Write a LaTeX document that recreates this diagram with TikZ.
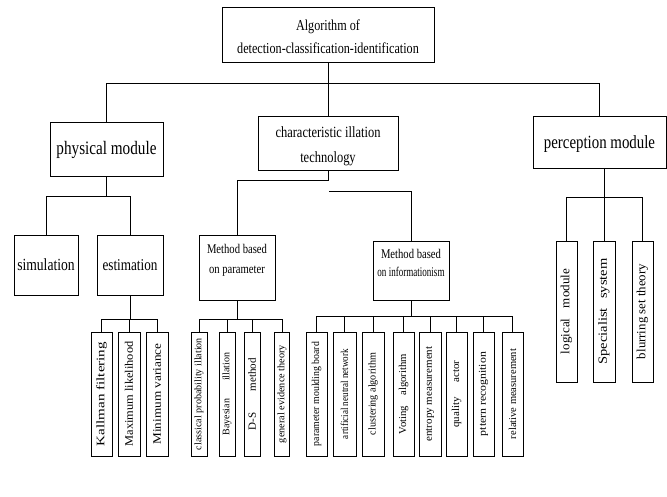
\documentclass[tikz,border=0pt]{standalone}
\usepackage{fontspec}
\usepackage{graphicx}
\setmainfont{Liberation Serif}
\newfontfamily\cond[FakeStretch=0.8]{Liberation Serif}
\newcommand{\lft}[3]{\rotatebox{90}{\fontsize{#1}{#1}\selectfont\resizebox{#2pt}{\height}{#3}}}
\begin{document}
\begin{tikzpicture}[x=1pt,y=-1pt,
  box/.style={draw, line width=0.8pt, inner sep=0pt},
  lab/.style={align=center, inner sep=0pt},
  leaf/.style={box, minimum height=124pt},
  rleaf/.style={box, minimum height=141pt},
  conn/.style={line width=0.8pt}]
\useasboundingbox (0,0) rectangle (667,497);

% main boxes
\node[box, minimum width=212pt, minimum height=55pt,
  label={[lab, font=\cond\fontsize{15.2}{23}\selectfont, yshift=-1.8pt]center:Algorithm of\\detection-classification-identification}] (top) at (328,34.5) {};
\node[box, minimum width=113pt, minimum height=54pt,
  label={[lab, font=\cond\fontsize{19}{23}\selectfont, yshift=-0.5pt]center:physical module}] (phys) at (106.5,149) {};
\node[box, minimum width=140pt, minimum height=54pt,
  label={[lab, font=\cond\fontsize{15.6}{25}\selectfont, yshift=-2.8pt]center:characteristic illation\\technology}] (char) at (328,143) {};
\node[box, minimum width=133pt, minimum height=52pt,
  label={[lab, font=\cond\fontsize{18.6}{23}\selectfont, yshift=-1.6pt]center:perception module}] (perc) at (599.5,142) {};

\node[box, minimum width=64pt, minimum height=60pt,
  label={[lab, font=\cond\fontsize{17}{20}\selectfont]center:simulation}] (sim) at (46,265) {};
\node[box, minimum width=66pt, minimum height=60pt,
  label={[lab, font=\cond\fontsize{16.5}{20}\selectfont]center:estimation}] (est) at (130,265) {};
\node[box, minimum width=76pt, minimum height=65pt,
  label={[lab, font=\cond\fontsize{13.3}{20}\selectfont, yshift=7.6pt]center:Method based\\on parameter}] (mpar) at (237,267.5) {};
\node[box, minimum width=76pt, minimum height=59pt,
  label={[lab, font=\cond\fontsize{13.3}{18}\selectfont, yshift=8pt]center:Method based\\\scalebox{0.85}[1]{on informationism}}] (minf) at (411,270.5) {};

% leaves
\node[leaf, minimum width=21pt] (k1) at (101.5,394) {\lft{11.5}{104}{Kallman filtering}};
\node[leaf, minimum width=22pt] (k2) at (129,394) {\lft{11.5}{105}{Maximum likelihood}};
\node[leaf, minimum width=22pt] (k3) at (157,394) {\lft{11.5}{101}{Minimum variance}};

\node[leaf, minimum width=16pt] (p1) at (199,394) {\lft{10}{112}{classical probability illation}};
\node[leaf, minimum width=16pt] (p2) at (227,394) {\lft{10}{83}{Bayesian\hspace{18pt}illation}};
\node[leaf, minimum width=16pt] (p3) at (252,394) {\lft{11}{72}{D-S\hspace{21pt}method}};
\node[leaf, minimum width=15pt] (p4) at (282,394) {\lft{10}{98}{general evidence theory}};

\node[leaf, minimum width=21pt] (i1) at (316.5,394) {\lft{10.5}{104}{parameter moulding board}};
\node[leaf, minimum width=23pt] (i2) at (344.5,394) {\lft{10.5}{90}{artificial neutral network}};
\node[leaf, minimum width=22pt] (i3) at (373,394) {\lft{10.5}{82}{clustering algorithm}};
\node[leaf, minimum width=21pt] (i4) at (403.5,394) {\lft{10.5}{80}{Voting\hspace{10pt}algorithm}};
\node[leaf, minimum width=22pt] (i5) at (430,394) {\lft{10.5}{95}{entropy measurement}};
\node[leaf, minimum width=21pt] (i6) at (456.5,394) {\lft{10.5}{67}{quality\hspace{14pt}actor}};
\node[leaf, minimum width=21pt] (i7) at (483.5,394) {\lft{10.5}{84}{pttern recognition}};
\node[leaf, minimum width=21pt] (i8) at (512.5,394) {\lft{10.5}{90}{relative measurement}};

\node[rleaf, minimum width=21pt] (r1) at (566.5,311.5) {\lft{12.5}{85}{logical\hspace{10pt}module}};
\node[rleaf, minimum width=22pt] (r2) at (604,311.5) {\lft{12.5}{106}{Specialist\hspace{8pt}system}};
\node[rleaf, minimum width=21pt] (r3) at (642.5,311.5) {\lft{12.5}{95}{blurring set theory}};

% connectors
\coordinate (b1) at (328,83);
\draw[conn] (top.south) -- (char.north);
\draw[conn] (phys.north) -- (phys.north |- b1) -| (perc.north);

\coordinate (b2) at (0,196);
\draw[conn] (phys.south) -- (phys.south |- b2);
\draw[conn] (sim.north) -- (sim.north |- b2) -| (est.north);

\coordinate (b3) at (0,319);
\draw[conn] (est.south) -- (est.south |- b3);
\draw[conn] (k1.north) -- (k1.north |- b3) -| (k3.north);
\draw[conn] (k2.north) -- (k2.north |- b3);

\coordinate (b4) at (0,180);
\draw[conn] (char.south) -- (char.south |- b4) -| (mpar.north);
\coordinate (b5) at (329,191);
\draw[conn] (b5) -| (minf.north);

\draw[conn] (mpar.south) -- (mpar.south |- b3);
\draw[conn] (p1.north) -- (p1.north |- b3) -| (p4.north);
\draw[conn] (p2.north) -- (p2.north |- b3);
\draw[conn] (p3.north) -- (p3.north |- b3);

\coordinate (b6) at (0,316);
\draw[conn] (minf.south) -- (minf.south |- b6);
\draw[conn] (i1.north) -- (i1.north |- b6) -| (i8.north);
\foreach \n in {i2,i3,i4,i5,i6,i7}{\draw[conn] (\n.north) -- (\n.north |- b6);}

\coordinate (b7) at (0,197);
\draw[conn] (r2.north) -- (r2.north |- perc.south);
\draw[conn] (r1.north) -- (r1.north |- b7) -| (r3.north);
\end{tikzpicture}
\end{document}
